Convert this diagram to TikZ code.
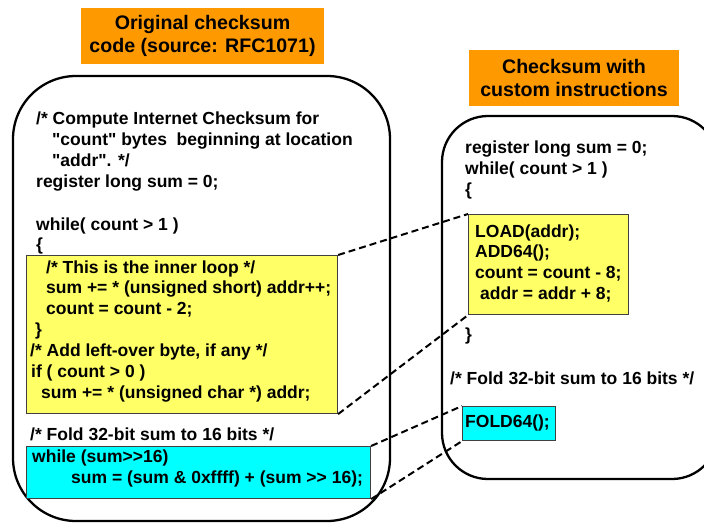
\documentclass[tikz,border=0pt]{standalone}
\usepackage{fontspec}
\setmainfont{Liberation Sans}[Ligatures=TeXOff]
\begin{document}
\begin{tikzpicture}[x=1pt,y=-1pt]
\definecolor{hdrorange}{RGB}{255,153,0}
\definecolor{loopyellow}{RGB}{255,255,102}
\definecolor{foldcyan}{RGB}{0,255,255}
\tikzset{
  panel/.style={draw=black,line width=2.3pt,fill=white},
  hilite/.style={draw=black!75,line width=1.1pt},
  code/.style={anchor=base west,inner sep=0pt,
    font=\fontsize{17.5}{21}\selectfont\bfseries},
  heading/.style={fill=hdrorange,inner sep=0pt,align=center,
    font=\fontsize{19.6}{23}\selectfont\bfseries},
  link/.style={draw=black,line width=2pt,dash pattern=on 7pt off 4pt}
}
\useasboundingbox (0,0) rectangle (704,522);
\clip (0,0) rectangle (704,522);
\fill[white] (0,0) rectangle (704,522);

% headings
\node[heading,minimum width=243pt,minimum height=56pt] (hOrig) at (202.5,36)
  {Original checksum\\code (source: RFC1071)};
\node[heading,minimum width=210pt,minimum height=56pt] (hCust) at (574,78)
  {Checksum with\\custom instructions};

% rounded panels
\draw[panel,rounded corners=63pt] (13,76) rectangle (390,521);
\draw[panel,rounded corners=46pt] (442,116) rectangle (718,479);

% highlighted regions
\node[hilite,fill=loopyellow,inner sep=0pt,minimum width=311pt,minimum height=158pt,anchor=north west] (ly) at (26,255) {};
\node[hilite,fill=foldcyan,inner sep=0pt,minimum width=344pt,minimum height=52pt,anchor=north west] (lc) at (26,446) {};
\node[hilite,fill=loopyellow,inner sep=0pt,minimum width=160pt,minimum height=100pt,anchor=north west] (ry) at (468,214) {};
\node[hilite,fill=foldcyan,inner sep=0pt,minimum width=93pt,minimum height=34pt,anchor=north west] (rc) at (462,406) {};

% original code
\node[code] (a1) at (36,124) {/* Compute Internet Checksum for};
\node[code] (a2) at (52,145) {"count" bytes\ \ beginning at location};
\node[code] (a3) at (52,166) {"addr". */};
\node[code] (a4) at (36,187) {register long sum = 0;};
\node[code] (a5) at (36,230) {while( count > 1 )};
\node[code] (a6) at (36,250) {\{};
\node[code] (a7) at (46,273) {/* This is the inner loop */};
\node[code] (a8) at (46,293) {sum += * (unsigned short) addr++;};
\node[code] (a9) at (46,314) {count = count - 2;};
\node[code] (a10) at (35,335) {\}};
\node[code] (a11) at (30,356) {/* Add left-over byte, if any */};
\node[code] (a12) at (31,377) {if ( count > 0 )};
\node[code] (a13) at (41,398) {sum += * (unsigned char *) addr;};
\node[code] (a14) at (30,440) {/* Fold 32-bit sum to 16 bits */};
\node[code] (a15) at (32,462) {while (sum>>16)};
\node[code] (a16) at (71,483) {sum = (sum \& 0xffff) + (sum >> 16);};

% custom-instruction code
\node[code] (b1) at (465,153) {register long sum = 0;};
\node[code] (b2) at (465,174) {while( count > 1 )};
\node[code] (b3) at (465,195) {\{};
\node[code] (b4) at (475,237) {LOAD(addr);};
\node[code] (b5) at (475,257) {ADD64();};
\node[code] (b6) at (475,278) {count = count - 8;};
\node[code] (b7) at (480,299) {addr = addr + 8;};
\node[code] (b8) at (465,340) {\}};
\node[code] (b9) at (450,384) {/* Fold 32-bit sum to 16 bits */};
\node[code] (b10) at (465,427) {FOLD64();};

% correspondence links
\draw[link] (ly.north east) -- (ry.north west);
\draw[link] (ly.south east) -- (ry.south west);
\draw[link] (lc.north east) -- (rc.north west);
\draw[link] (lc.south east) -- (rc.south west);
\end{tikzpicture}
\end{document}
